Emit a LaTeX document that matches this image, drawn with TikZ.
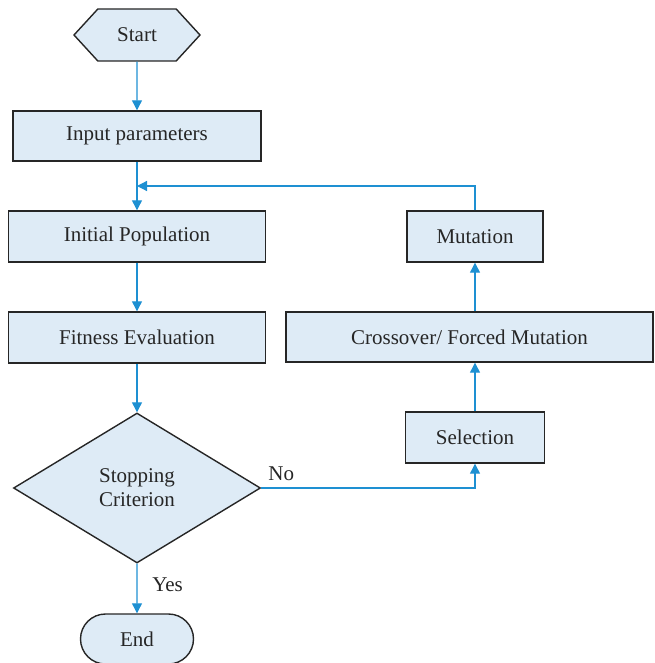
\documentclass[tikz,border=0pt]{standalone}
\usepackage{fontspec}
\setmainfont{Liberation Serif}
\usetikzlibrary{shapes.geometric,shapes.misc,shapes.symbols,arrows.meta}
\definecolor{boxfill}{RGB}{222,235,246}
\definecolor{flowblue}{RGB}{30,144,210}

\begin{document}
\begin{tikzpicture}[x=0.5pt,y=-0.5pt,
    every node/.style={font=\fontsize{10.5}{12}\selectfont, text=black!85},
    procbox/.style={draw=black!85, line width=0.7pt, fill=boxfill, rectangle, inner sep=0pt, minimum height=25pt},
    flow/.style={draw=flowblue, line width=0.6pt},
    arr/.style={flow, -{Triangle[length=5pt,width=5pt]}}]
    % Fix the page size
    \useasboundingbox (0,0) rectangle (654,663);

    % Left column
    \node[procbox, signal, signal to=west and east, signal pointer angle=95, minimum width=63pt, minimum height=26pt] (start) at (137,35) {Start};
    \node[procbox, minimum width=124pt] (input) at (137,136) {Input parameters};
    \node[procbox, minimum width=128.5pt, minimum height=25.5pt] (init) at (137,236.5) {Initial Population};
    \node[procbox, minimum width=128.5pt, minimum height=25.5pt] (fit) at (137,337.5) {Fitness Evaluation};
    \node[procbox, diamond, minimum width=123.5pt, minimum height=75pt, align=center] (crit) at (137,488) {Stopping\\Criterion};
    \node[procbox, rounded rectangle, minimum width=56.5pt] (stop) at (137,639) {End};

    % Right column
    \node[procbox, minimum width=68pt, minimum height=25.5pt] (mut) at (475,236.5) {Mutation};
    \node[procbox, minimum width=183.5pt] (cross) at (469.5,337) {Crossover/ Forced Mutation};
    \node[procbox, minimum width=69.5pt, minimum height=25.5pt] (sel) at (475,437.5) {Selection};

    % Connectors
    \draw[arr] (start) -- (input);
    \draw[arr] (input) -- (init);
    \draw[arr] (init) -- (fit);
    \draw[arr] (fit) -- (crit);
    \draw[arr] (crit) -- node[pos=0.42, right=4pt] {Yes} (stop);
    \draw[arr] (crit.east) -- node[pos=0, above right] {No} (crit.east -| sel.south) -- (sel.south);
    \draw[arr] (sel.north) -- (sel.north |- cross.south);
    \draw[arr] (mut.south |- cross.north) -- (mut.south);
    \coordinate (back) at (mut.north |- 0,186);
    \draw[arr] (mut.north) -- (back) -- (back -| input.south);
\end{tikzpicture}
\end{document}
